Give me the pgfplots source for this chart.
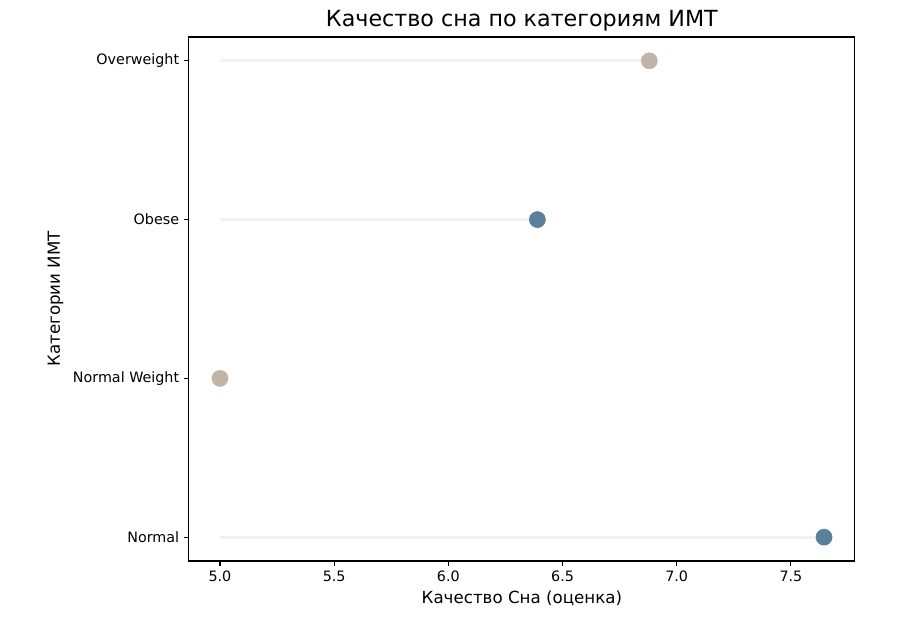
\documentclass[border=0pt]{standalone}
\usepackage{pgfplots}
\pgfplotsset{compat=1.18}
\usepackage{fontspec}
\setmainfont{DejaVu Sans}
\definecolor{tanc}{RGB}{193,180,166}
\definecolor{bluec}{RGB}{90,128,155}
\definecolor{stemc}{RGB}{244,240,235}
\begin{document}
\begin{tikzpicture}
\useasboundingbox (0,0) rectangle (648pt,447.12pt);
\begin{axis}[
    at={(136pt,43.2pt)}, anchor=south west,
    width=479.5pt, height=377.3pt, scale only axis,
    xmin=4.864, xmax=7.78,
    ymin=-0.15, ymax=3.15,
    xtick={5,5.5,6,6.5,7,7.5},
    xticklabels={5.0,5.5,6.0,6.5,7.0,7.5},
    ytick={0,1,2,3},
    yticklabels={Normal,Normal Weight,Obese,Overweight},
    xtick pos=bottom, ytick pos=left,
    tick align=outside, major tick length=3.5pt,
    tick style={line width=0.8pt,black},
    axis line style={line width=0.8pt},
    ticklabel style={font=\fontsize{10.3}{12}\selectfont},
    /pgf/number format/assume math mode=true,
    title={Качество сна по категориям ИМТ},
    title style={font=\fontsize{16}{19}\selectfont, yshift=-5pt},
    xlabel={Качество Сна (оценка)},
    ylabel={Категории ИМТ},
    label style={font=\fontsize{12}{14}\selectfont},
    clip=false,
]
\addplot[stemc, line width=2pt] coordinates {(5,0) (7.645,0)};
\addplot[stemc, line width=2pt] coordinates {(5,1) (5.0,1)};
\addplot[stemc, line width=2pt] coordinates {(5,2) (6.39,2)};
\addplot[stemc, line width=2pt] coordinates {(5,3) (6.88,3)};
\addplot[only marks, mark=*, mark size=5.8pt, bluec, mark options={draw=bluec, fill=bluec}]
  coordinates {(7.645,0) (6.39,2)};
\addplot[only marks, mark=*, mark size=5.8pt, tanc, mark options={draw=tanc, fill=tanc}]
  coordinates {(5.0,1) (6.88,3)};
\end{axis}
\end{tikzpicture}
\end{document}
